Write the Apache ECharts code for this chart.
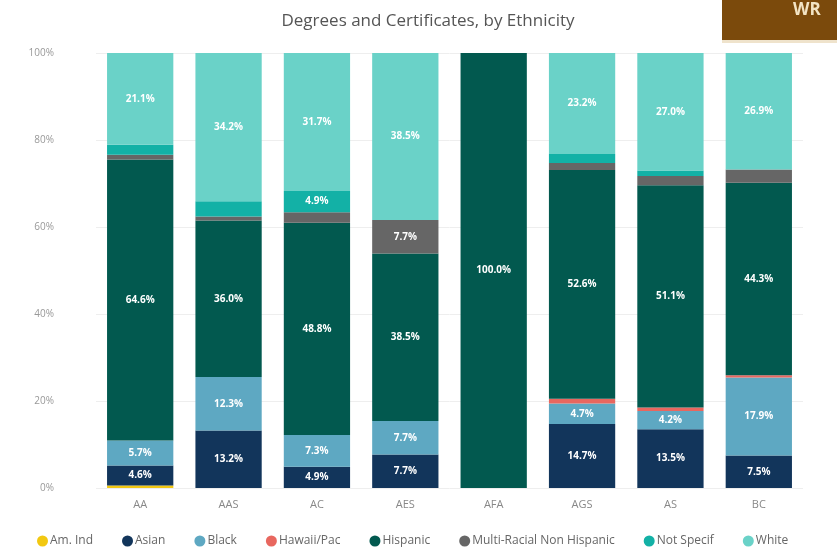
<!DOCTYPE html>
<html><head><meta charset="utf-8">
<script src="https://cdn.jsdelivr.net/npm/echarts@6/dist/echarts.min.js"></script>
<style>html,body{margin:0;padding:0;background:#fff}#c{width:837px;height:556px}</style>
</head><body><div id="c"></div>
<script>
const categories = ['AA','AAS','AC','AES','AFA','AGS','AS','BC'];
const amInd      = [0.6, 0,    0,    0,    0,     0,    0,    0];
const asian      = [4.6, 13.2, 4.9,  7.7,  0,     14.7, 13.5, 7.5];
const black      = [5.7, 12.3, 7.3,  7.7,  0,     4.7,  4.2,  17.9];
const hawaiiPac  = [0,   0,    0,    0,    0,     1.1,  0.8,  0.5];
const hispanic   = [64.6,36.0, 48.8, 38.5, 100.0, 52.6, 51.1, 44.3];
const multiRacial= [1.1, 0.9,  2.4,  7.7,  0,     1.6,  2.1,  3.0];
const notSpecif  = [2.3, 3.5,  4.9,  0,    0,     2.1,  1.3,  0];
const white      = [21.1,34.2, 31.7, 38.5, 0,     23.2, 27.0, 26.9];
const yTicks = [0,20,40,60,80,100];

const seriesDefs = [
  ['Am. Ind', amInd, '#F2C811'],
  ['Asian', asian, '#12355B'],
  ['Black', black, '#5EA8C2'],
  ['Hawaii/Pac', hawaiiPac, '#E8675F'],
  ['Hispanic', hispanic, '#02594F'],
  ['Multi-Racial Non Hispanic', multiRacial, '#666666'],
  ['Not Specif', notSpecif, '#13B1A6'],
  ['White', white, '#6AD2C8']
];

const chart = echarts.init(document.getElementById('c'));
chart.setOption({
  animation:false,
  title:{text:'Degrees and Certificates, by Ethnicity', left:423, top:8, textAlign:'center',
    textStyle:{fontFamily:'Open Sans', fontSize:17, fontWeight:'normal', color:'#555'}},
  graphic:[
    {type:'rect', shape:{x:722,y:0,width:115,height:40}, style:{fill:'#7B4A0C'}},
    {type:'rect', shape:{x:722,y:40,width:115,height:3}, style:{fill:'#efe3cc'}},
    {type:'text', left:793, top:2, style:{text:'WR', fill:'#f3e4c4', font:'bold 17px "Open Sans"'}}
  ],
  legend:{bottom:4, left:32, icon:'circle', itemWidth:11, itemHeight:11, itemGap:29,
    textStyle:{fontFamily:'Open Sans', fontSize:12, color:'#666', padding:[0,0,0,-3]}},
  grid:{left:96, right:34, top:53, bottom:68},
  xAxis:{type:'category', data:categories,
    axisLine:{show:false}, axisTick:{show:false},
    axisLabel:{color:'#888', fontFamily:'Open Sans', fontSize:11, margin:11}},
  yAxis:{type:'value', min:0, max:100, interval:20,
    axisLabel:{formatter:v=>yTicks.includes(v)?v+'%':'', color:'#999', fontFamily:'Open Sans', fontSize:10, margin:42},
    splitLine:{lineStyle:{color:'#eeeeee'}}},
  series: seriesDefs.map(([name,data,color])=>({
    name, type:'bar', stack:'total', data, barCategoryGap:'25%',
    itemStyle:{color},
    label:{show:true, position:'inside', color:'#fff', fontFamily:'Open Sans', fontSize:10, fontWeight:'bold',
      formatter:p=>p.value>=4?p.value.toFixed(1)+'%':''}
  }))
});
</script></body></html>
